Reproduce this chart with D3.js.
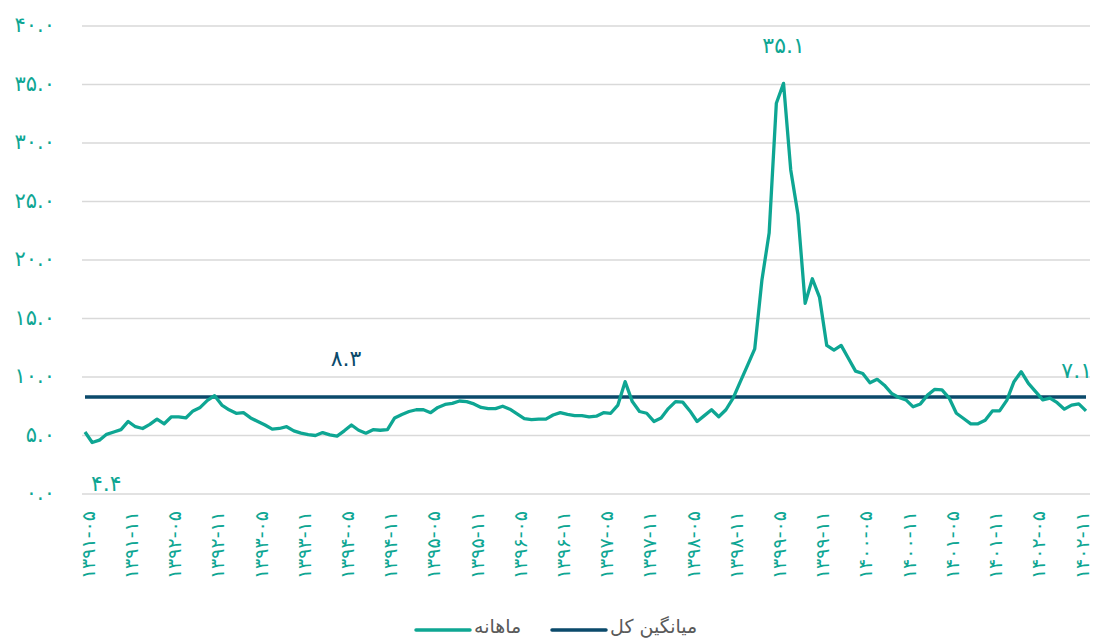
<!DOCTYPE html>
<html lang="fa">
  <head>
    <meta charset="UTF-8" />
    <title>ماهانه و میانگین کل</title>
    <style>
      body { margin: 0; background: #fff; }
      svg { display: block; font-family: "DejaVu Sans", sans-serif; }
    </style>
  </head>
  <body>
    <svg width="1094" height="639"></svg>
    <script src="https://d3js.org/d3.v7.min.js"></script>
    <script>
      // monthly values, 1391-05 .. 1402-12
      const monthly = [
        5.3, 4.4, 4.6, 5.1, 5.3, 5.5, 6.2, 5.75, 5.6, 5.95,
        6.4, 6.0, 6.6, 6.6, 6.5, 7.1, 7.4, 8.0, 8.4, 7.6,
        7.2, 6.9, 6.95, 6.5, 6.2, 5.9, 5.55, 5.6, 5.75, 5.4,
        5.2, 5.07, 5.0, 5.25, 5.05, 4.95, 5.4, 5.9, 5.45, 5.2,
        5.5, 5.45, 5.5, 6.5, 6.8, 7.05, 7.2, 7.2, 6.95, 7.4,
        7.65, 7.75, 7.95, 7.9, 7.7, 7.4, 7.3, 7.3, 7.5, 7.25,
        6.85, 6.45, 6.35, 6.4, 6.4, 6.75, 6.95, 6.8, 6.7, 6.7,
        6.6, 6.65, 6.95, 6.9, 7.6, 9.6, 7.9, 7.05, 6.9, 6.2,
        6.5, 7.3, 7.9, 7.85, 7.1, 6.2, 6.7, 7.2, 6.6, 7.2,
        8.2, 9.6, 11.0, 12.4, 18.3, 22.3, 33.4, 35.1, 27.7, 23.9,
        16.3, 18.4, 16.8, 12.7, 12.3, 12.7, 11.6, 10.5, 10.3, 9.5,
        9.8, 9.3, 8.6, 8.25, 8.05, 7.45, 7.7, 8.45, 8.95, 8.9,
        8.2, 6.9, 6.45, 6.0, 6.0, 6.3, 7.1, 7.1, 8.0, 9.6,
        10.45, 9.45, 8.75, 8.05, 8.2, 7.8, 7.25, 7.6, 7.7, 7.1
      ];
      const overallMean = 8.3;

      const startYear = 1391;
      const startMonth = 5;

      const yTicks = [0, 5, 10, 15, 20, 25, 30, 35, 40];

      const xTickLabels = [
        "1391-05", "1391-11", "1392-05", "1392-11", "1393-05", "1393-11",
        "1394-05", "1394-11", "1395-05", "1395-11", "1396-05", "1396-11",
        "1397-05", "1397-11", "1398-05", "1398-11", "1399-05", "1399-11",
        "1400-05", "1400-11", "1401-05", "1401-11", "1402-05", "1402-11"
      ];

      const seriesNames = ["ماهانه", "میانگین کل"];

      const teal = "#0ea693";
      const navy = "#0b4a6b";

      const fa = (s) => String(s).replace(/[0-9]/g, (d) => "۰۱۲۳۴۵۶۷۸۹"[+d]);

      const months = monthly.map((_, i) => {
        const m = startMonth - 1 + i;
        const y = startYear + Math.floor(m / 12);
        const mm = (m % 12) + 1;
        return y + "-" + (mm < 10 ? "0" + mm : mm);
      });

      const svg = d3.select("svg");

      const x = d3.scalePoint().domain(months).range([85, 1086]);
      const y = d3.scaleLinear().domain([0, 40]).range([494, 26]);

      // grid
      svg.append("g")
        .selectAll("line")
        .data(yTicks)
        .join("line")
        .attr("x1", 82)
        .attr("x2", 1090)
        .attr("y1", (d) => y(d))
        .attr("y2", (d) => y(d))
        .attr("stroke", "#d9d9d9")
        .attr("stroke-width", 1.5);

      // y axis labels
      svg.append("g")
        .selectAll("text")
        .data(yTicks)
        .join("text")
        .attr("x", 55)
        .attr("y", (d) => y(d))
        .attr("dy", "0.3em")
        .attr("text-anchor", "end")
        .attr("fill", teal)
        .style("font-size", "21px")
        .text((d) => fa(d.toFixed(1)));

      // x axis labels
      svg.append("g")
        .selectAll("text")
        .data(xTickLabels)
        .join("text")
        .attr("transform", (d) => `translate(${x(d) + 4},511) rotate(-90)`)
        .attr("dy", "0.3em")
        .attr("text-anchor", "end")
        .attr("fill", teal)
        .attr("direction", "ltr")
        .style("font-size", "19px")
        .text((d) => fa(d));

      // mean line
      svg.append("line")
        .attr("x1", x(months[0]))
        .attr("x2", x(months[months.length - 1]))
        .attr("y1", y(overallMean))
        .attr("y2", y(overallMean))
        .attr("stroke", navy)
        .attr("stroke-width", 3.5);

      // monthly line
      svg.append("path")
        .datum(monthly)
        .attr("fill", "none")
        .attr("stroke", teal)
        .attr("stroke-width", 3.3)
        .attr("stroke-linejoin", "round")
        .attr("d", d3.line().x((d, i) => x(months[i])).y((d) => y(d)));

      // value labels
      const maxI = d3.maxIndex(monthly);
      const minI = d3.minIndex(monthly);
      const lastI = monthly.length - 1;

      svg.append("text")
        .attr("x", x(months[maxI]))
        .attr("y", 53)
        .attr("text-anchor", "middle")
        .attr("fill", teal)
        .style("font-size", "22px")
        .text(fa(monthly[maxI].toFixed(1)));

      svg.append("text")
        .attr("x", x(months[minI]) + 14)
        .attr("y", 491)
        .attr("text-anchor", "middle")
        .attr("fill", teal)
        .style("font-size", "22px")
        .text(fa(monthly[minI].toFixed(1)));

      svg.append("text")
        .attr("x", 1092)
        .attr("y", 378)
        .attr("text-anchor", "end")
        .attr("fill", teal)
        .style("font-size", "22px")
        .text(fa(monthly[lastI].toFixed(1)));

      svg.append("text")
        .attr("x", 346)
        .attr("y", 366)
        .attr("text-anchor", "middle")
        .attr("fill", navy)
        .style("font-size", "22px")
        .text(fa(overallMean.toFixed(1)));

      // legend
      const legend = [
        { name: seriesNames[0], color: teal, lx: 416, tx: 474 },
        { name: seriesNames[1], color: navy, lx: 552, tx: 610 }
      ];
      const lg = svg.append("g");
      lg.selectAll("line")
        .data(legend)
        .join("line")
        .attr("x1", (d) => d.lx)
        .attr("x2", (d) => d.lx + 54)
        .attr("y1", 630)
        .attr("y2", 630)
        .attr("stroke", (d) => d.color)
        .attr("stroke-width", 3.5)
        .attr("stroke-linecap", "round");
      lg.selectAll("text")
        .data(legend)
        .join("text")
        .attr("x", (d) => d.tx)
        .attr("y", 626)
        .attr("dy", "0.35em")
        .attr("text-anchor", "start")
        .attr("fill", "#595959")
        .style("font-size", "19px")
        .text((d) => d.name);
    </script>
  </body>
</html>
